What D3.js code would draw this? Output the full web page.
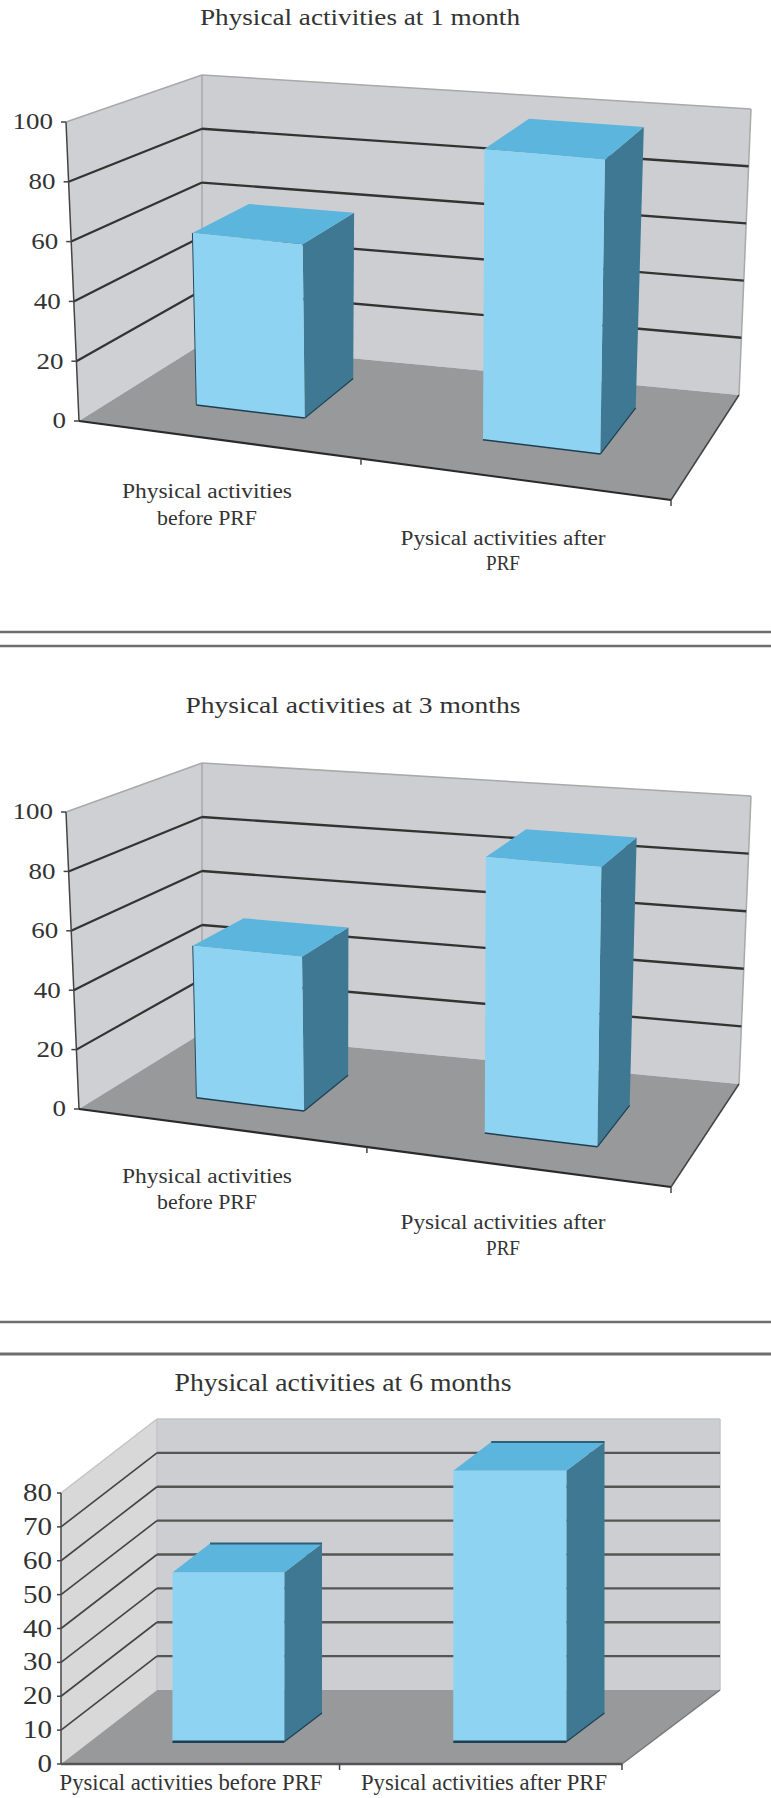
<!DOCTYPE html>
<html><head><meta charset="utf-8">
<script src="https://cdn.jsdelivr.net/npm/d3@7"></script>
<style>html,body{margin:0;padding:0;background:#fff}svg{display:block}text{font-family:"Liberation Serif",serif;fill:#333}</style>
</head><body><svg id="c" width="771" height="1798"></svg>
<script>
// ---- data ----
const titles = ["Physical activities at 1 month","Physical activities at 3 months","Physical activities at 6 months"];
const categories = ["before","after"];
const values1 = [59, 97];
const values3 = [52, 91];
const values6 = [50, 80];
const ticks1 = [0,20,40,60,80,100];
const ticks3 = [0,20,40,60,80,100];
const ticks6 = [0,10,20,30,40,50,60,70,80];
const labels1 = [["Physical activities","before PRF"],["Pysical activities after","PRF"]];
const labels3 = [["Physical activities","before PRF"],["Pysical activities after","PRF"]];
const labels6 = [["Pysical activities before PRF"],["Pysical activities after PRF"]];

// ---- layout ----
const charts = [
 {title:titles[0],values:values1,ticks:ticks1,labels:labels1,max:100,
  fl:[79,421],fr:[671,500],br:[739,395],bl:[202,344],
  tfl:[66,122],tfr:[676,184],tbr:[751,109],tbl:[202,75],
  warp:1.07,pad:.61,depth:[.33,.79],
  titlePos:[360,25,320],labelX:[207,503],labelY:[[498,525],[545,570]],labelW:[[170,100],[205,34]],fs:20,tfs:23,
  tickDx:-13,tickFs:23,tickW:13.5},
 {title:titles[1],values:values3,ticks:ticks3,labels:labels3,max:100,
  fl:[79,1109],fr:[671,1187],br:[739,1084],bl:[202,1033],
  tfl:[66,812],tfr:[676,867],tbr:[751,796],tbl:[202,763],
  warp:1.04,pad:.62,depth:[.28,.7],
  titlePos:[353,713,335],labelX:[207,503],labelY:[[1183,1209],[1229,1255]],labelW:[[170,100],[205,34]],fs:20,tfs:23,
  tickDx:-13,tickFs:23,tickW:13.5},
 {title:titles[2],values:values6,ticks:ticks6,labels:labels6,max:80,
  fl:[61,1764],fr:[622,1764],br:[720,1690],bl:[157,1690],
  tfl:[61,1493],tfr:[622,1493],tbr:[720,1419],tbl:[157,1419],
  warp:1.01,pad:.6,depth:[.3,.69],
  titlePos:[343,1391,337],labelX:[191,484],labelY:[[1790],[1790]],labelW:[[263],[246]],fs:24,tfs:25,
  tickDx:-9,tickFs:25,tickW:14.5,oblique:true}
];
const separators = [[632,2.5],[646,2.5],[1322,2.5],[1354,3]];

const svg = d3.select("#c");
separators.forEach(([y,w])=>svg.append("line").attr("x1",0).attr("x2",771).attr("y1",y).attr("y2",y)
  .attr("stroke","#6e6e6e").attr("stroke-width",w));

const lerp=(a,b,t)=>[a[0]+(b[0]-a[0])*t,a[1]+(b[1]-a[1])*t];

function draw(c){
  const g = svg.append("g");
  const band = d3.scaleBand().domain(categories).range([0,1]).paddingInner(c.pad).paddingOuter(c.pad/2);
  const warp = d3.scalePow().exponent(c.warp).domain([0,1]).range([0,1]);
  const vScale = d3.scaleLinear().domain([0,c.max]).range([0,1]);
  // projection: u along the category axis, w in depth, v the value
  const P=(u,w,v)=>{
    const f=lerp(lerp(c.fl,c.fr,u),lerp(c.bl,c.br,u),w);
    const t=lerp(lerp(c.tfl,c.tfr,u),lerp(c.tbl,c.tbr,u),w);
    return lerp(f,t,vScale(v));
  };
  const poly=(pts,fill)=>g.append("polygon").attr("points",pts.map(p=>p.join(",")).join(" ")).attr("fill",fill);
  const seg=(a,b,col,w)=>g.append("line").attr("x1",a[0]).attr("y1",a[1]).attr("x2",b[0]).attr("y2",b[1])
     .attr("stroke",col).attr("stroke-width",w);

  // walls and floor
  poly([P(0,0,0),P(0,1,0),P(0,1,c.max),P(0,0,c.max)],c.oblique?"#d8d8d9":"#cfd0d3");
  poly([P(0,1,0),P(1,1,0),P(1,1,c.max),P(0,1,c.max)],"#cdced2");
  poly([P(0,0,0),P(1,0,0),P(1,1,0),P(0,1,0)],"#98999b");
  // wall outlines
  const edge=c.oblique?"#c4c4c6":"#a9a9ab";
  seg(P(0,0,c.max),P(0,1,c.max),edge,1.5);
  seg(P(0,1,c.max),P(1,1,c.max),edge,1.5);
  seg(P(0,1,c.max),P(0,1,0),edge,1.5);
  seg(P(1,1,c.max),P(1,1,0),edge,1.5);
  // gridlines
  c.ticks.filter(t=>t>0&&t<c.max).forEach(t=>{
    seg(P(0,0,t),P(0,1,t),c.oblique?"#444":"#333",c.oblique?1.6:2.2);
    seg(P(0,1,t),P(1,1,t),c.oblique?"#555":"#333",2.4);
  });
  // axis lines
  seg(P(0,0,0),P(0,0,c.max),"#444",1.5);
  seg(P(0,0,0),P(1,0,0),c.oblique?"#555":"#2a2a2a",c.oblique?2.5:2.2);
  seg(P(1,0,0),P(1,1,0),c.oblique?"#777":"#444",1.5);
  // ticks & labels
  const tk=c.oblique?-4:-5;
  c.ticks.forEach(t=>{
    const p=P(0,0,t);
    seg(p,[p[0]+tk,p[1]],"#444",1.5);
    g.append("text").attr("x",p[0]+c.tickDx).attr("y",p[1]).attr("dy","0.32em")
      .attr("text-anchor","end").attr("font-size",c.tickFs)
      .attr("textLength",String(t).length*c.tickW)
      .attr("lengthAdjust","spacingAndGlyphs").text(t);
  });
  const mid=P(warp(.5),0,0); seg(mid,[mid[0],mid[1]+6],"#444",1.5);
  const end=P(1,0,0); seg(end,[end[0],end[1]+6],"#444",1.5);

  // bars
  const [w0,w1]=c.depth;
  categories.forEach((cat,i)=>{
    const u0=warp(band(cat)),u1=warp(band(cat)+band.bandwidth()),v=c.values[i];
    poly([P(u1,w0,0),P(u1,w1,0),P(u1,w1,v),P(u1,w0,v)],"#3e7892");
    poly([P(u0,w0,v),P(u1,w0,v),P(u1,w1,v),P(u0,w1,v)],"#5bb5dd");
    poly([P(u0,w0,0),P(u1,w0,0),P(u1,w0,v),P(u0,w0,v)],"#8fd3f2");
    seg(P(u0,w0,0),P(u1,w0,0),"#1e3f52",c.oblique?2.5:1.5);
    seg(P(u0,w0,0),P(u0,w0,v),"#26495e",i===0&&!c.oblique?1:0);
    if(c.oblique){seg(P(u0,w1,v),P(u1,w1,v),"#2f5f78",2);}
    seg(P(u1,w0,0),P(u1,w1,0),"#1e3f52",1.2);
  });

  // text
  g.append("text").attr("x",c.titlePos[0]).attr("y",c.titlePos[1]).attr("text-anchor","middle")
    .attr("font-size",c.tfs).attr("textLength",c.titlePos[2]).attr("lengthAdjust","spacingAndGlyphs").text(c.title);
  c.labels.forEach((lines,i)=>lines.forEach((s,j)=>{
    g.append("text").attr("x",c.labelX[i]).attr("y",c.labelY[i][j]).attr("text-anchor","middle")
      .attr("font-size",c.fs).attr("textLength",c.labelW[i][j]).attr("lengthAdjust","spacingAndGlyphs").text(s);
  }));
}
charts.forEach(draw);
</script></body></html>
